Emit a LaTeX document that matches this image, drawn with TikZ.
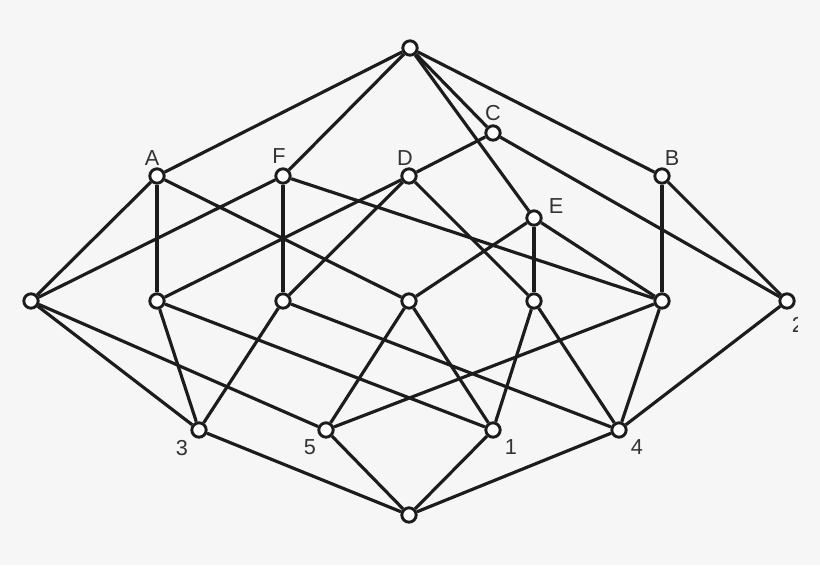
\documentclass[tikz,border=0pt]{standalone}
\usepackage{fontspec}
\setmainfont{Liberation Sans}
\usepackage{tikz}
\definecolor{bgcol}{HTML}{F6F6F6}
\definecolor{inkcol}{HTML}{1C1C1C}
\definecolor{labcol}{HTML}{333333}
\tikzset{%
  x=0.03cm, y=-0.03cm,
  vertex/.style={
    circle, draw=inkcol, fill=white,
    line width=2.5pt, minimum size=0.43cm, inner sep=0pt},
  lab/.style={
    text=labcol, inner sep=0pt,
    font=\fontsize{18.5}{21}\selectfont},
  every edge/.style={
    draw=inkcol,
    line width=2.7pt} %
}
\begin{document}
\begin{tikzpicture}
    \fill[bgcol] (0,0) rectangle (820,565);
    \useasboundingbox (0,0) rectangle (820,565);

    % lattice vertices
    \node[vertex] (top) at (410,48) {};
    \node[vertex] (C) at (493,133) {};
    \node[vertex] (A) at (157,176) {};
    \node[vertex] (F) at (283,176) {};
    \node[vertex] (D) at (409,176) {};
    \node[vertex] (B) at (662,176) {};
    \node[vertex] (E) at (534,218) {};
    \node[vertex] (L) at (31,301) {};
    \node[vertex] (M1) at (157,301) {};
    \node[vertex] (M2) at (283,301) {};
    \node[vertex] (M3) at (409,301) {};
    \node[vertex] (M4) at (534,301) {};
    \node[vertex] (M5) at (662,301) {};
    \node[vertex] (R) at (787,301) {};
    \node[vertex] (n3) at (199,430) {};
    \node[vertex] (n5) at (326,430) {};
    \node[vertex] (n1) at (493,430) {};
    \node[vertex] (n4) at (619,430) {};
    \node[vertex] (bot) at (409,515) {};

    \draw
      (top) edge (A)
      (top) edge (F)
      (top) edge (C)
      (top) edge (E)
      (top) edge (B)
      (A) edge (L)
      (A) edge (M1)
      (A) edge (M3)
      (F) edge (L)
      (F) edge (M2)
      (F) edge (M5)
      (C) edge (D)
      (C) edge (R)
      (D) edge (M1)
      (D) edge (M2)
      (D) edge (M4)
      (B) edge (M5)
      (B) edge (R)
      (E) edge (M3)
      (E) edge (M4)
      (E) edge (M5)
      (L) edge (n3)
      (L) edge (n5)
      (M1) edge (n3)
      (M1) edge (n1)
      (M2) edge (n3)
      (M2) edge (n4)
      (M3) edge (n5)
      (M3) edge (n1)
      (M4) edge (n1)
      (M4) edge (n4)
      (M5) edge (n5)
      (M5) edge (n4)
      (R) edge (n4)
      (n3) edge (bot)
      (n5) edge (bot)
      (n1) edge (bot)
      (n4) edge (bot)
    ;

    % labels
    \node[lab] (labA) at (152,158) {A};
    \node[lab] (labF) at (279,156) {F};
    \node[lab] (labD) at (405,158) {D};
    \node[lab] (labC) at (493,113) {C};
    \node[lab] (labB) at (672,158) {B};
    \node[lab] (labE) at (556,206) {E};
    \node[lab] (lab3) at (182,448) {3};
    \node[lab] (lab5) at (310,447) {5};
    \node[lab] (lab1) at (511,447) {1};
    \node[lab] (lab4) at (637,447) {4};
    \begin{scope}
      \clip (760,300) rectangle (797,345);
      \node[lab] (lab2) at (798,325) {2};
    \end{scope}

\end{tikzpicture}
\end{document}
